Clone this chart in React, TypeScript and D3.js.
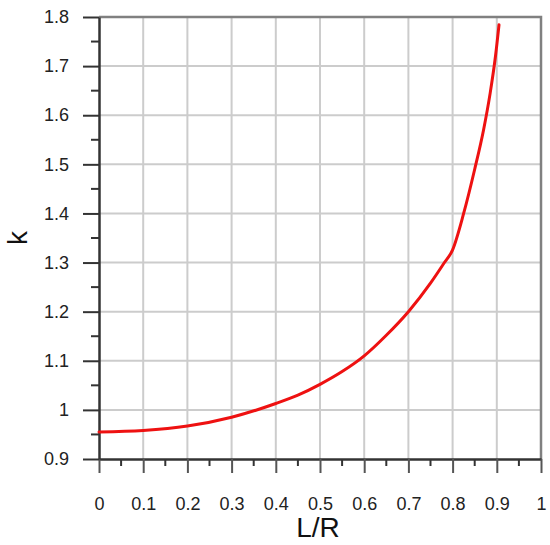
import React, { useEffect, useRef } from 'react';
import * as d3 from 'd3';

// curve
const ratio = [0, 0.1, 0.2, 0.3, 0.4, 0.45, 0.5, 0.55, 0.6, 0.65, 0.7, 0.75, 0.78, 0.8, 0.825, 0.85, 0.87, 0.885, 0.897, 0.905];
const kValues = [0.955, 0.958, 0.967, 0.985, 1.013, 1.03, 1.052, 1.078, 1.11, 1.152, 1.2, 1.258, 1.298, 1.326, 1.4, 1.49, 1.57, 1.645, 1.72, 1.784];

const xTicks = [0, 0.1, 0.2, 0.3, 0.4, 0.5, 0.6, 0.7, 0.8, 0.9, 1];
const yTicks = [0.9, 1, 1.1, 1.2, 1.3, 1.4, 1.5, 1.6, 1.7, 1.8];

const W = 550;
const H = 545;

const App = () => {
	const ref = useRef<SVGSVGElement>(null);

	useEffect(() => {
		const svg = d3.select(ref.current);
		svg.selectAll('*').remove();

		const m = { l: 99, r: 9, t: 17, b: 86 };
		const x = d3.scaleLinear().domain([0, 1]).range([m.l, W - m.r]);
		const y = d3.scaleLinear().domain([0.9, 1.8]).range([H - m.b, m.t]);
		const font = 'Liberation Sans, Arial, sans-serif';

		// grid
		const grid = svg.append('g').attr('stroke', '#cccccc').attr('stroke-width', 2);
		grid.selectAll('.vx')
			.data(xTicks.slice(1, -1))
			.join('line')
			.attr('x1', d => x(d))
			.attr('x2', d => x(d))
			.attr('y1', y(0.9))
			.attr('y2', y(1.8));
		grid.selectAll('.hy')
			.data(yTicks.slice(1, -1))
			.join('line')
			.attr('x1', x(0))
			.attr('x2', x(1))
			.attr('y1', d => y(d))
			.attr('y2', d => y(d));

		// top & right frame
		svg.append('path')
			.attr('d', `M${x(0)},${y(1.8)}H${x(1)}V${y(0.9)}`)
			.attr('fill', 'none')
			.attr('stroke', '#808080')
			.attr('stroke-width', 2.5);

		// x axis
		const xMinor = d3.range(0.05, 1, 0.1);
		const xAxis = d3.axisBottom(x).tickValues(xTicks).tickSize(14).tickSizeOuter(0).tickPadding(24)
			.tickFormat(d => d3.format('')(+d));
		const xg = svg.append('g').attr('transform', `translate(0,${y(0.9)})`).call(xAxis);
		xg.selectAll('.tick line').attr('stroke', '#555').attr('stroke-width', 2);
		xg.select('.domain').attr('stroke', '#333').attr('stroke-width', 2.5);
		xg.selectAll('text').attr('font-size', 18).attr('font-family', font).attr('fill', '#222');
		xg.selectAll('.minor')
			.data(xMinor)
			.join('line')
			.attr('x1', d => x(d))
			.attr('x2', d => x(d))
			.attr('y1', 0)
			.attr('y2', 7)
			.attr('stroke', '#333')
			.attr('stroke-width', 2);

		// y axis
		const yMinor = d3.range(0.95, 1.8, 0.1);
		const yAxis = d3.axisLeft(y).tickValues(yTicks).tickSize(16).tickSizeOuter(0).tickPadding(14)
			.tickFormat(d => d3.format('')(+d));
		const yg = svg.append('g').attr('transform', `translate(${x(0)},0)`).call(yAxis);
		yg.selectAll('.tick line').attr('stroke', '#333').attr('stroke-width', 2);
		yg.select('.domain').attr('stroke', '#333').attr('stroke-width', 2.5);
		yg.selectAll('text').attr('font-size', 18).attr('font-family', font).attr('fill', '#222');
		yg.selectAll('.minor')
			.data(yMinor)
			.join('line')
			.attr('x1', -8)
			.attr('x2', 0)
			.attr('y1', d => y(d))
			.attr('y2', d => y(d))
			.attr('stroke', '#333')
			.attr('stroke-width', 2);

		// curve
		const line = d3.line<number>()
			.x((d, i) => x(ratio[i]))
			.y(d => y(d))
			.curve(d3.curveMonotoneX);
		svg.append('path')
			.attr('d', line(kValues))
			.attr('fill', 'none')
			.attr('stroke', '#ee1111')
			.attr('stroke-width', 3)
			.attr('stroke-linecap', 'round');

		// titles
		svg.append('text')
			.attr('x', (x(0) + x(1)) / 2 - 2)
			.attr('y', 537)
			.attr('text-anchor', 'middle')
			.attr('font-size', 28)
			.attr('font-family', font)
			.attr('fill', '#111')
			.text('L/R');
		svg.append('text')
			.attr('transform', `translate(27,${(y(0.9) + y(1.8)) / 2}) rotate(-90)`)
			.attr('text-anchor', 'middle')
			.attr('font-size', 28)
			.attr('font-family', font)
			.attr('fill', '#111')
			.text('k');
	}, []);

	return (
		<svg
			ref={ref}
			width={W}
			height={H}
			style={{ position: 'absolute', left: 0, top: 0, background: '#fff' }}
		/>
	);
};

export default App;
